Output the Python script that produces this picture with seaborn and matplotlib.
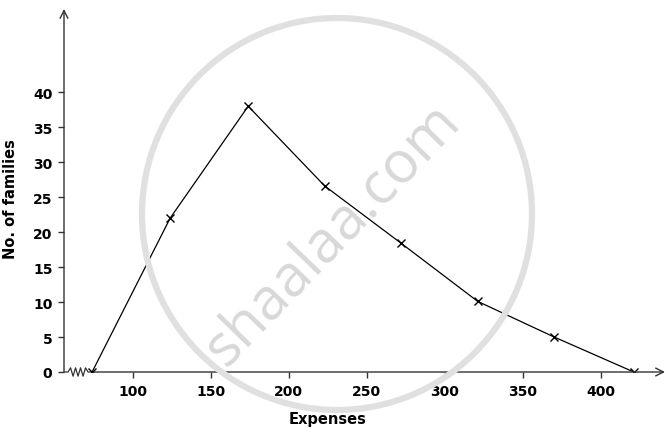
import matplotlib
matplotlib.use("Agg")
import matplotlib.pyplot as plt
import seaborn as sns
import pandas as pd
from matplotlib.patches import Ellipse

expenses = [74, 124, 174, 223, 272, 321, 370, 421]
families = [0, 22, 38, 26.6, 18.4, 10.1, 5, 0]
x_ticks = [100, 150, 200, 250, 300, 350, 400]
y_ticks = [0, 5, 10, 15, 20, 25, 30, 35, 40]

df = pd.DataFrame({"Expenses": expenses, "Families": families})

sns.set_style("white")
plt.rcParams["font.family"] = ["DejaVu Sans"]
plt.rcParams["text.color"] = "black"
plt.rcParams["axes.labelcolor"] = "black"
plt.rcParams["xtick.color"] = "black"
plt.rcParams["ytick.color"] = "black"

fig = plt.figure(figsize=(6.71, 4.39), dpi=100)
ax = fig.add_axes([64 / 671, 66 / 439, 601 / 671, 363 / 439])
ax.set_xlim(56, 441)
ax.set_ylim(0, 51.9)

# watermark
fig.patches.append(Ellipse((337 / 671, 1 - 215 / 439), 390 / 671, 392 / 439,
                           transform=fig.transFigure, fill=False,
                           edgecolor="#e0e0e0", linewidth=4.5, zorder=0))
fig.text(333 / 671, 1 - 236 / 439, "shaalaa.com", fontsize=42, color="#d8d8d8",
         rotation=46, ha="center", va="center", zorder=0,
         family=["Open Sans", "DejaVu Sans"])

sns.lineplot(data=df, x="Expenses", y="Families", ax=ax, color="black",
             linewidth=0.9, marker="x", markersize=6, markeredgewidth=1.0,
             markeredgecolor="black", zorder=3)

for s in ax.spines.values():
    s.set_visible(False)
ax.patch.set_alpha(0)

axis_col = "#333333"
ax.annotate("", xy=(0, 1.0), xytext=(0, 0), xycoords="axes fraction",
            arrowprops=dict(arrowstyle="->", color=axis_col, lw=1.0,
                            mutation_scale=14, shrinkA=0, shrinkB=0))
ax.annotate("", xy=(1.0, 0), xytext=(0.05, 0), xycoords="axes fraction",
            arrowprops=dict(arrowstyle="->", color=axis_col, lw=1.0,
                            mutation_scale=14, shrinkA=0, shrinkB=0))
# axis break zigzag
zx = [56, 58.6, 60.2, 61.8, 63.4, 65.0, 66.6, 68.2, 69.8, 71.4, 75.3]
zy = [0, 0, 0.6, -0.6, 0.6, -0.6, 0.6, -0.6, 0.6, 0, 0]
ax.plot(zx, zy, color=axis_col, lw=0.9, clip_on=False, zorder=2)

ax.set_xticks(x_ticks)
ax.set_yticks(y_ticks)
ax.tick_params(axis="both", which="major", direction="out", length=4.3,
               width=1, color=axis_col, labelcolor="black", labelsize=10,
               pad=4, bottom=True, left=True)
for lab in ax.get_xticklabels() + ax.get_yticklabels():
    lab.set_fontweight("bold")

ax.set_xlabel("Expenses", fontsize=10.5, fontweight="bold")
ax.set_ylabel("No. of families", fontsize=10.5, fontweight="bold")
ax.yaxis.set_label_coords(-0.077, 0.479)
ax.xaxis.set_label_coords(0.439, -0.108)

fig.savefig("out.png", dpi=100)
